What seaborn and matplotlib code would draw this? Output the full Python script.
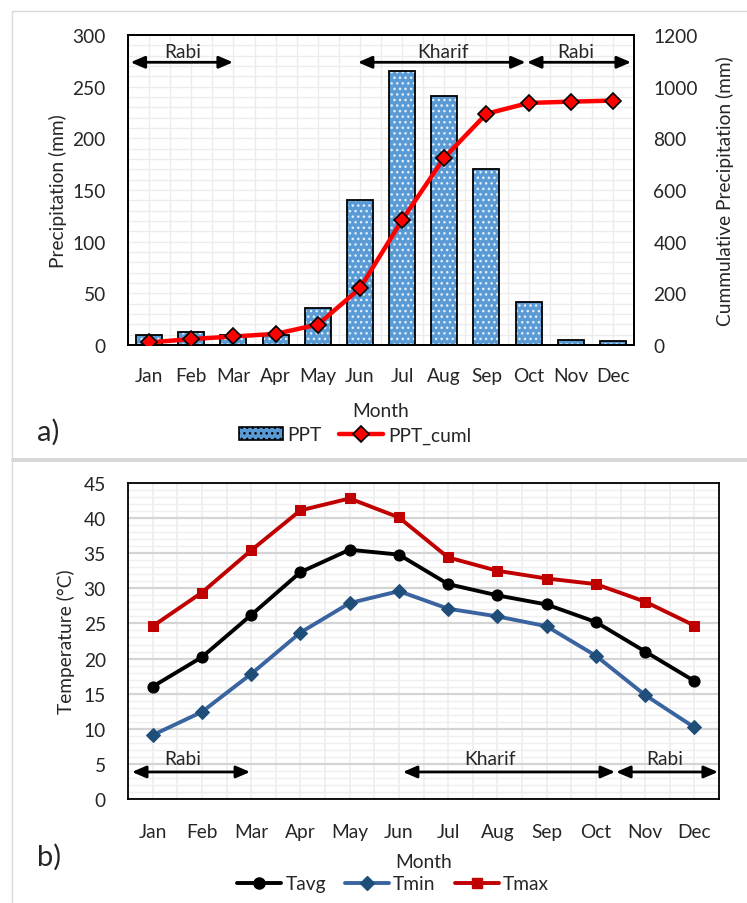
import numpy as np
import pandas as pd
import matplotlib
matplotlib.use("Agg")
import matplotlib.pyplot as plt
import seaborn as sns
from matplotlib.lines import Line2D
from matplotlib.patches import Patch
from matplotlib.ticker import MultipleLocator

months = ["Jan", "Feb", "Mar", "Apr", "May", "Jun", "Jul", "Aug", "Sep", "Oct", "Nov", "Dec"]
ppt = [10, 13, 10, 10, 36, 140, 265, 241, 170, 42, 5, 4]
ppt_cuml = [10, 23, 33, 43, 79, 219, 484, 725, 895, 937, 942, 946]
tavg = [16.0, 20.2, 26.2, 32.3, 35.5, 34.8, 30.6, 29.0, 27.7, 25.2, 21.0, 16.8]
tmin = [9.1, 12.4, 17.8, 23.7, 27.9, 29.6, 27.1, 26.0, 24.6, 20.4, 14.8, 10.2]
tmax = [24.6, 29.4, 35.4, 41.1, 42.8, 40.1, 34.4, 32.5, 31.4, 30.6, 28.1, 24.7]

sns.set_theme(style="white")
plt.rcParams["font.family"] = ["Lato", "DejaVu Sans"]
FS = 13.8
TXT = "#262626"

W, H = 747, 904
fig = plt.figure(figsize=(W / 100, H / 100), dpi=100)

def fx(px):
    return px / W

def fy(py):
    return 1 - py / H

# figure frames (Excel chart borders)
for y in (459.5, 461.8):
    fig.add_artist(Line2D([fx(12), 1.0], [fy(y), fy(y)], color="#d0d0d0", lw=1.2, transform=fig.transFigure))
fig.add_artist(Line2D([fx(12), 1.0], [fy(12), fy(12)], color="#d9d9d9", lw=1.0, transform=fig.transFigure))
fig.add_artist(Line2D([fx(12), fx(12)], [fy(12), 0.0], color="#d9d9d9", lw=1.0, transform=fig.transFigure))

# ---------------- top chart ----------------
ax = fig.add_axes([fx(128), fy(346), fx(634) - fx(128), fy(36) - fy(346)])
df = pd.DataFrame({"Month": months, "PPT": ppt, "PPT_cuml": ppt_cuml})

sns.barplot(data=df, x="Month", y="PPT", ax=ax, color="#5b9bd5", saturation=1,
            width=0.62, edgecolor="#e3effa", linewidth=0, hatch="...", zorder=2)
sns.barplot(data=df, x="Month", y="PPT", ax=ax, fill=False, width=0.62,
            edgecolor="black", linewidth=1.3, zorder=3)
ax.set_ylim(0, 300)
ax.set_xlim(-0.5, 11.5)
ax.yaxis.set_major_locator(MultipleLocator(50))
ax.yaxis.set_minor_locator(MultipleLocator(10))
ax.set_xticks(np.arange(12))
ax.set_xticks(np.arange(-0.5, 12, 1), minor=True)
ax.grid(True, which="both", color="#ececec", lw=1.0, zorder=0)
ax.set_axisbelow(True)
ax.tick_params(axis="both", which="both", length=0, labelsize=FS, colors=TXT)
ax.tick_params(axis="y", pad=16)
ax.tick_params(axis="x", pad=16)
ax.set_xlabel("Month", fontsize=FS, color=TXT, labelpad=13)
ax.set_ylabel("Precipitation (mm)", fontsize=FS, color=TXT, labelpad=4)
for s in ax.spines.values():
    s.set_color("black")
    s.set_linewidth(1.3)
    s.set_visible(True)

ax2 = ax.twinx()
sns.lineplot(data=df, x="Month", y="PPT_cuml", ax=ax2, sort=False, color="#ff0000",
             lw=3.2, marker="D", markersize=8.5, markerfacecolor="#ff0000",
             markeredgecolor="black", markeredgewidth=1.2, zorder=5)
ax2.set_ylim(0, 1200)
ax2.yaxis.set_major_locator(MultipleLocator(200))
ax2.tick_params(axis="y", length=0, labelsize=FS, colors=TXT, pad=14)
ax2.set_ylabel("Cummulative Precipitation (mm)", fontsize=FS, color=TXT, labelpad=13)
ax2.grid(False)
for s in ax2.spines.values():
    s.set_color("black")
    s.set_linewidth(1.3)

arrow = dict(arrowstyle="<|-|>,head_length=0.7,head_width=0.3", color="black", lw=2,
             shrinkA=0, shrinkB=0)
for (x0, x1, lx, lab) in [(-0.44, 1.99, 0.80, "Rabi"), (4.95, 8.93, 6.97, "Kharif"), (8.96, 11.43, 10.12, "Rabi")]:
    ax.annotate("", xy=(x1, 273.6), xytext=(x0, 273.6), arrowprops=arrow, zorder=6)
    ax.text(lx, 276, lab, ha="center", va="bottom", fontsize=FS, color=TXT, zorder=6)

h1 = Patch(facecolor="#5b9bd5", edgecolor="black", hatch="...", lw=1.2)
h2 = Line2D([], [], color="#ff0000", lw=3.2, marker="D", markersize=8.5,
            markerfacecolor="#ff0000", markeredgecolor="black", markeredgewidth=1.2)
fig.legend([h1, h2], ["PPT", "PPT_cuml"], loc="center", bbox_to_anchor=(fx(355), fy(436)),
           frameon=False, fontsize=FS, ncol=2, handlelength=2.3, handletextpad=0.25,
           columnspacing=0.9, labelcolor=TXT)
fig.text(fx(37), fy(432), "a)", fontsize=21, color=TXT, va="center", ha="left")

# ---------------- bottom chart ----------------
bx = fig.add_axes([fx(128), fy(800), fx(719) - fx(128), fy(484) - fy(800)])
tdf = pd.DataFrame({"Month": months, "Tavg": tavg, "Tmin": tmin, "Tmax": tmax})
styles = [("Tavg", "black", "o", "black", 8), ("Tmin", "#3a64a0", "D", "#1f4e79", 7.5),
          ("Tmax", "#c00000", "s", "#c00000", 7.5)]
handles = []
for name, col, mk, mcol, ms in styles:
    sns.lineplot(data=tdf, x="Month", y=name, ax=bx, sort=False, color=col, lw=2.8,
                 marker=mk, markersize=ms, markerfacecolor=mcol, markeredgecolor=mcol, zorder=4)
    handles.append(Line2D([], [], color=col, lw=2.8, marker=mk, markersize=ms,
                          markerfacecolor=mcol, markeredgecolor=mcol))
bx.set_ylim(0, 45)
bx.set_xlim(-0.5, 11.5)
bx.yaxis.set_major_locator(MultipleLocator(5))
bx.yaxis.set_minor_locator(MultipleLocator(1))
bx.set_xticks(np.arange(12))
bx.set_xticks(np.arange(-0.5, 12, 1), minor=True)
bx.grid(True, axis="y", which="major", color="#d4d4d4", lw=1.6, zorder=0)
bx.grid(True, axis="y", which="minor", color="#efefef", lw=1.0, zorder=0)
bx.grid(True, axis="x", which="both", color="#efefef", lw=1.3, zorder=0)
bx.set_axisbelow(True)
bx.tick_params(axis="both", which="both", length=0, labelsize=FS, colors=TXT)
bx.tick_params(axis="y", pad=16)
bx.tick_params(axis="x", pad=17)
bx.set_xlabel("Month", fontsize=FS, color=TXT, labelpad=10)
bx.set_ylabel("Temperature (°C)", fontsize=FS, color=TXT, labelpad=6)
for s in bx.spines.values():
    s.set_color("black")
    s.set_linewidth(1.3)
    s.set_visible(True)

for (x0, x1, lx, lab) in [(-0.42, 1.98, 0.62, "Rabi"), (5.08, 9.39, 6.85, "Kharif"), (9.41, 11.48, 10.4, "Rabi")]:
    bx.annotate("", xy=(x1, 3.85), xytext=(x0, 3.85), arrowprops=arrow, zorder=6)
    bx.text(lx, 4.6, lab, ha="center", va="bottom", fontsize=FS, color=TXT, zorder=6)

fig.legend(handles, ["Tavg", "Tmin", "Tmax"], loc="center", bbox_to_anchor=(fx(393), fy(885)),
           frameon=False, fontsize=FS, ncol=3, handlelength=2.3, handletextpad=0.2,
           columnspacing=1.0, labelcolor=TXT)
fig.text(fx(37), fy(857), "b)", fontsize=21, color=TXT, va="center", ha="left")

fig.savefig("out.png", dpi=100)
